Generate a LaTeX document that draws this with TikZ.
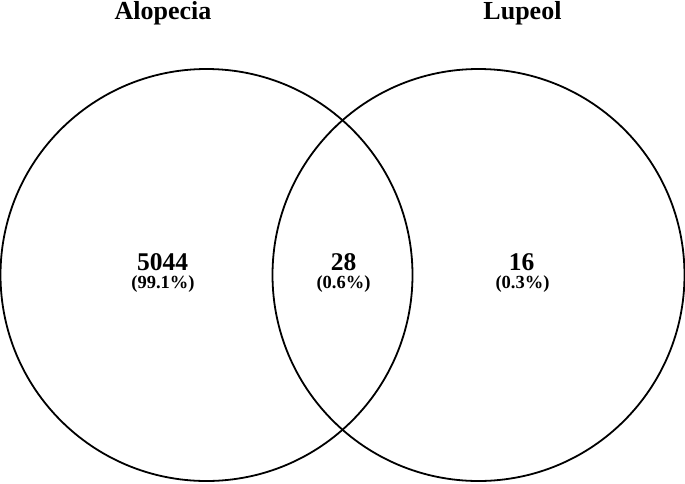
\documentclass[tikz,border=0pt]{standalone}
\usepackage{fontspec}
\setmainfont{Liberation Serif}
\begin{document}
\begin{tikzpicture}[x=1pt,y=-1pt,
  ring/.style={draw=black,line width=1.8pt},
  title/.style={font=\fontsize{26}{30}\selectfont\bfseries,inner sep=0pt,anchor=base},
  count/.style={font=\fontsize{25.5}{29}\selectfont\bfseries,inner sep=0pt,anchor=base},
  pct/.style={font=\fontsize{18.5}{22}\selectfont\bfseries,inner sep=0pt,anchor=base}]
\useasboundingbox (0,0) rectangle (685,483);
\node[ring,circle,minimum size=412pt,inner sep=0pt] (A) at (206.5,275) {};
\node[ring,circle,minimum size=412pt,inner sep=0pt] (L) at (478.5,275) {};
\node[title] (tA) at (163,19.5) {Alopecia};
\node[title] (tL) at (522.5,19.5) {Lupeol};
\node[count] (nA) at (162.5,270) {5044};
\node[count] (nAL) at (343.5,270) {28};
\node[count] (nL) at (521.5,270) {16};
\node[pct] (pA) at (163,288.5) {(99.1\%)};
\node[pct] (pAL) at (343.5,288.5) {(0.6\%)};
\node[pct] (pL) at (522.5,288.5) {(0.3\%)};
\end{tikzpicture}
\end{document}
